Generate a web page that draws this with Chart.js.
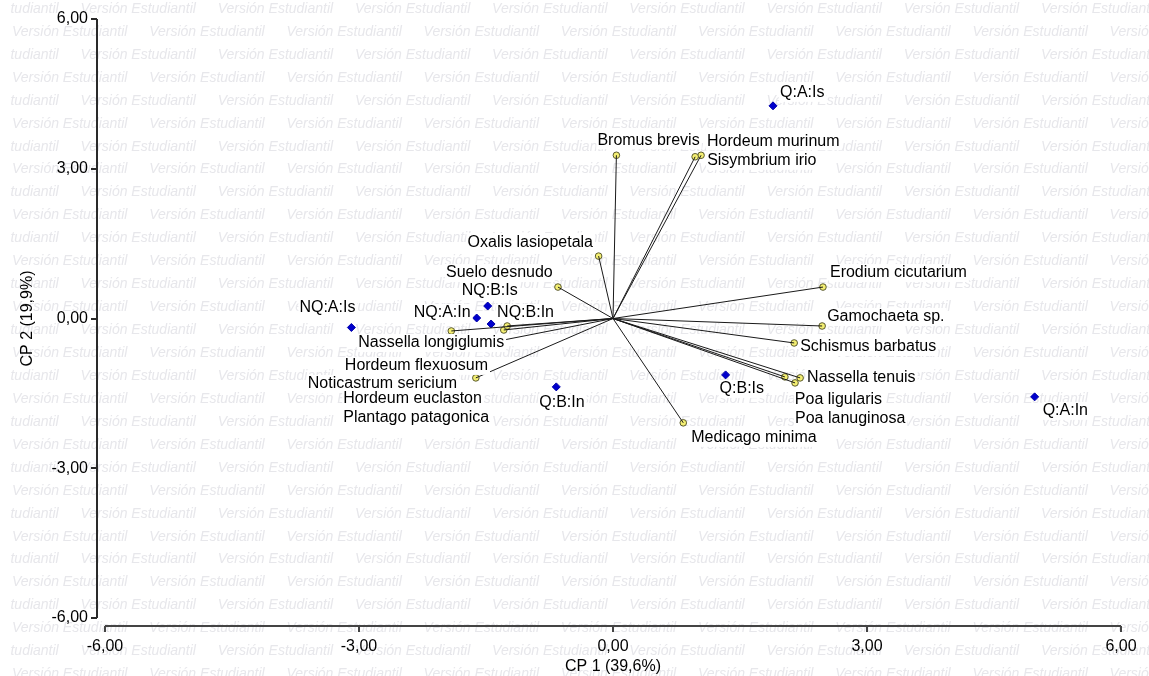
<!DOCTYPE html>
<html>
<head>
<meta charset="utf-8">
<script src="https://cdn.jsdelivr.net/npm/chart.js@4.4.1/dist/chart.umd.min.js"></script>
<style>
  html, body { margin: 0; padding: 0; background: #fff; overflow: hidden; }
  #wrap { width: 1149px; height: 676px; }
</style>
</head>
<body>
<div id="wrap"><canvas id="c" width="1149" height="676"></canvas></div>
<script>
// Biplot: treatments (observations) and species (variables) on CP 1 / CP 2
const groupNames = ['Q:A:Is', 'NQ:A:Is', 'NQ:B:Is', 'NQ:A:In', 'NQ:B:In', 'Q:B:In', 'Q:B:Is', 'Q:A:In'];
const groupCP1   = [1.89, -3.09, -1.48, -1.61, -1.44, -0.67, 1.33, 4.98];
const groupCP2   = [4.26, -0.18, 0.25, 0.01, -0.11, -1.37, -1.13, -1.57];

const speciesNames = [
  'Bromus brevis', 'Hordeum murinum', 'Sisymbrium irio', 'Oxalis lasiopetala', 'Suelo desnudo',
  'Erodium cicutarium', 'Gamochaeta sp.', 'Schismus barbatus', 'Nassella tenuis', 'Poa ligularis',
  'Poa lanuginosa', 'Medicago minima', 'Nassella longiglumis', 'Hordeum flexuosum',
  'Noticastrum sericium', 'Hordeum euclaston', 'Plantago patagonica'
];
const speciesCP1 = [0.04, 1.04, 0.97, -0.17, -0.65, 2.48, 2.47, 2.14, 2.21, 2.03, 2.15, 0.83, -1.91, -1.62, -1.29, -1.25, -1.32];
const speciesCP2 = [3.27, 3.27, 3.24, 1.25, 0.63, 0.63, -0.15, -0.49, -1.19, -1.17, -1.29, -2.09, -0.25, -1.19, -0.23, -0.15, -0.44];

const axisTicks = [-6, -3, 0, 3, 6];
const xTitle = 'CP 1 (39,6%)';
const yTitle = 'CP 2 (19,9%)';
const watermarkText = 'Versión Estudiantil';

// label placement (pixel offsets of the text's left/middle from its marker)
const groupLabelOffsets = [[7,-13],[-52,-20],[-26,-15],[-63,-5],[6,-11],[-17,16],[-6,14],[8,14]];
const speciesLabelOffsets = [
  [-19,-15],[6,-14],[12,4],[-131,-14],[-112,-14],
  [7,-14],[5,-9],[6,4],[7,0],[10,23],
  [0,36],[8,15],[-93,12],[-131,-12],
  [-196,54],[-164,73],[-158,77]
];

const FONT = "'Liberation Sans', Arial, sans-serif";
const AXIS_GAP = 8;   // axes are drawn detached from the plotting area
const TICK_LEN = 6;

const fmt = v => v.toFixed(2).replace('.', ',');

// background with the repeated watermark
const watermarkPlugin = {
  id: 'watermark',
  beforeDraw(chart) {
    const ctx = chart.ctx, W = chart.width, H = chart.height;
    ctx.save();
    ctx.fillStyle = '#ffffff';
    ctx.fillRect(0, 0, W, H);
    ctx.beginPath();
    ctx.rect(11, 0, W - 11, H);
    ctx.clip();
    ctx.font = 'italic 14px ' + FONT;
    ctx.fillStyle = '#e7e7eb';
    ctx.textBaseline = 'middle';
    ctx.textAlign = 'left';
    const period = 137.2, rowStep = 22.94;
    for (let k = 0; k * rowStep + 9 < H + 12; k++) {
      const y = 9 + k * rowStep;
      const start = (k % 2 === 1) ? 12 : 80.5 - period;
      for (let x = start; x < W; x += period) ctx.fillText(watermarkText, x, y);
    }
    ctx.restore();
  }
};

// detached axis lines with outward tick marks, placed from the chart's scales
const axesPlugin = {
  id: 'detachedAxes',
  afterDraw(chart) {
    const ctx = chart.ctx, xs = chart.scales.x, ys = chart.scales.y;
    const area = chart.chartArea;
    ctx.save();
    ctx.strokeStyle = '#2a2a2a';
    ctx.lineWidth = 2;
    const ax = area.left - AXIS_GAP;
    const ay = area.bottom + AXIS_GAP;
    ctx.beginPath();
    ctx.moveTo(ax, ys.getPixelForValue(ys.max));
    ctx.lineTo(ax, ys.getPixelForValue(ys.min));
    ys.ticks.forEach(t => {
      const p = Math.round(ys.getPixelForValue(t.value));
      ctx.moveTo(ax, p); ctx.lineTo(ax - TICK_LEN, p);
    });
    ctx.stroke();
    ctx.strokeStyle = '#444444';
    ctx.beginPath();
    ctx.moveTo(xs.getPixelForValue(xs.min), ay);
    ctx.lineTo(xs.getPixelForValue(xs.max), ay);
    xs.ticks.forEach(t => {
      const p = Math.round(xs.getPixelForValue(t.value));
      ctx.moveTo(p, ay); ctx.lineTo(p, ay + TICK_LEN);
    });
    ctx.stroke();
    ctx.restore();
  }
};

// point labels on white boxes
const labelPlugin = {
  id: 'pointLabels',
  afterDatasetsDraw(chart) {
    const ctx = chart.ctx, xs = chart.scales.x, ys = chart.scales.y;
    ctx.save();
    ctx.font = '16px ' + FONT;
    ctx.textBaseline = 'middle';
    ctx.textAlign = 'left';
    const put = (name, vx, vy, off) => {
      const px = xs.getPixelForValue(vx) + off[0];
      const py = ys.getPixelForValue(vy) + off[1];
      const w = ctx.measureText(name).width;
      ctx.fillStyle = '#ffffff';
      ctx.fillRect(px - 1, py - 9, w + 3, 18);
      ctx.fillStyle = '#000000';
      ctx.fillText(name, px, py);
    };
    speciesNames.forEach((n, i) => put(n, speciesCP1[i], speciesCP2[i], speciesLabelOffsets[i]));
    groupNames.forEach((n, i) => put(n, groupCP1[i], groupCP2[i], groupLabelOffsets[i]));
    ctx.restore();
  }
};

const vectorSets = speciesNames.map((n, i) => ({
  label: n,
  data: [{ x: 0, y: 0 }, { x: speciesCP1[i], y: speciesCP2[i] }],
  showLine: true,
  borderColor: '#1a1a1a',
  borderWidth: 1,
  pointRadius: 0,
  pointHoverRadius: 0
}));

const speciesSet = {
  label: 'Especies',
  data: speciesNames.map((n, i) => ({ x: speciesCP1[i], y: speciesCP2[i] })),
  pointRadius: 3.3,
  pointBackgroundColor: '#f4ef72',
  pointBorderColor: '#5a5a30',
  pointBorderWidth: 1
};

const groupSet = {
  label: 'Tratamientos',
  data: groupNames.map((n, i) => ({ x: groupCP1[i], y: groupCP2[i] })),
  pointStyle: 'rectRot',
  pointRadius: 4,
  pointBackgroundColor: '#0000cc',
  pointBorderColor: '#0000aa',
  pointBorderWidth: 1
};

// tick marks of the scales are kept invisible; they only space the labels
const hiddenTicks = len => ({ display: true, drawOnChartArea: false, drawTicks: true, tickLength: len, tickColor: 'rgba(0,0,0,0)' });

new Chart(document.getElementById('c'), {
  type: 'scatter',
  data: { datasets: [...vectorSets, speciesSet, groupSet] },
  options: {
    responsive: false,
    animation: false,
    devicePixelRatio: 1,
    layout: { padding: { left: 0, right: 28, top: 19, bottom: 0 } },
    plugins: { legend: { display: false }, tooltip: { enabled: false } },
    scales: {
      x: {
        type: 'linear', min: -6, max: 6,
        afterBuildTicks: s => { s.ticks = axisTicks.map(v => ({ value: v })); },
        afterFit: s => { s.height = 58; },
        grid: hiddenTicks(19),
        border: { display: false },
        ticks: { padding: 0, color: '#000', font: { family: FONT, size: 16 }, callback: v => fmt(v), maxRotation: 0 },
        title: { display: true, text: xTitle, color: '#000', font: { family: FONT, size: 16 }, padding: { top: 0, bottom: 0 } }
      },
      y: {
        type: 'linear', min: -6, max: 6,
        afterBuildTicks: s => { s.ticks = axisTicks.map(v => ({ value: v })); },
        afterFit: s => { s.width = 105; },
        grid: hiddenTicks(17),
        border: { display: false },
        ticks: { padding: 0, color: '#000', font: { family: FONT, size: 16 }, callback: v => fmt(v) },
        title: { display: true, text: yTitle, color: '#000', font: { family: FONT, size: 16 }, padding: { top: 18, bottom: 0 } }
      }
    }
  },
  plugins: [watermarkPlugin, axesPlugin, labelPlugin]
});
</script>
</body>
</html>
